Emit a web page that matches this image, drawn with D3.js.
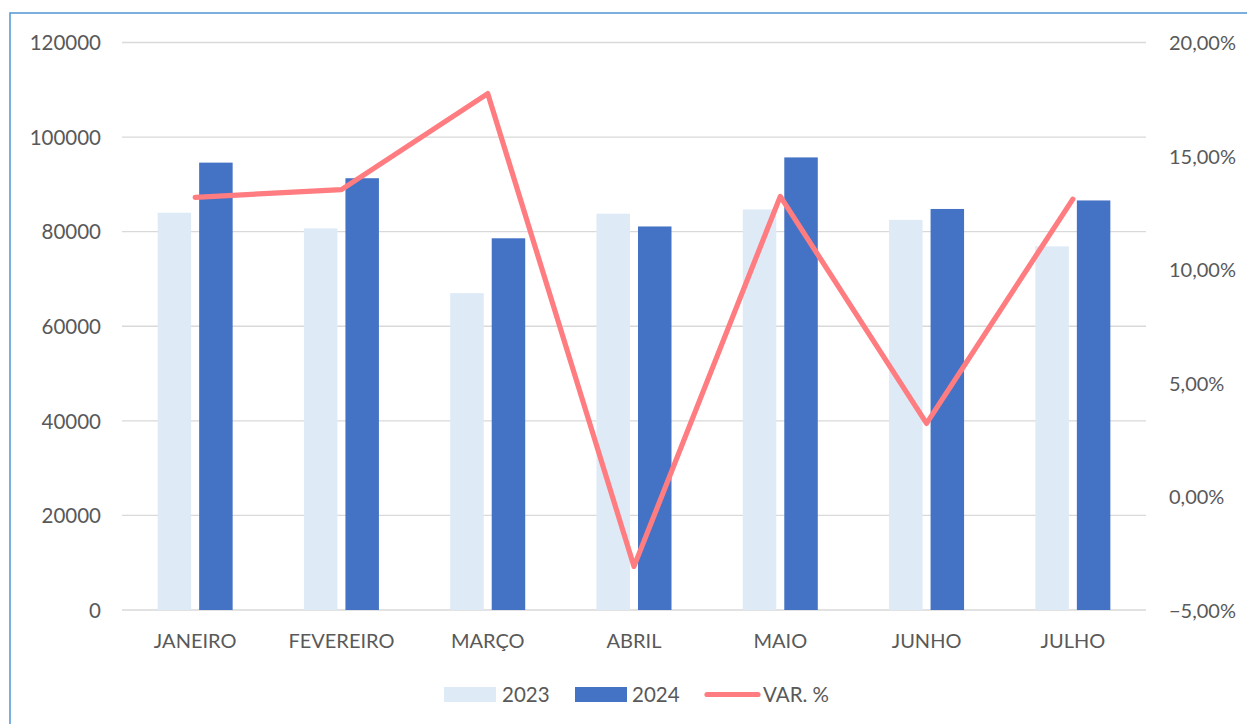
<!DOCTYPE html>
<html>
<head>
<meta charset="utf-8">
<script src="https://cdn.jsdelivr.net/npm/d3@7"></script>
<style>
  html, body { margin: 0; padding: 0; background: #fff; }
  svg { display: block; }
  text { font-family: Lato, "Open Sans", sans-serif; fill: #595959; }
</style>
</head>
<body>
<svg id="chart" width="1247" height="724"></svg>
<script>
// Monthly totals for 2023 and 2024, plus year-over-year variation (%)
const months = ["JANEIRO", "FEVEREIRO", "MARÇO", "ABRIL", "MAIO", "JUNHO", "JULHO"];
const values2023 = [84000, 80700, 67000, 83800, 84700, 82500, 76900];
const values2024 = [94600, 91300, 78600, 81100, 95700, 84800, 86600];
const variation = [13.18, 13.52, 17.75, -3.08, 13.22, 3.22, 13.1];

const leftTicks = [0, 20000, 40000, 60000, 80000, 100000, 120000];
const rightTicks = [-5, 0, 5, 10, 15, 20];

const colors = { y2023: "#DEEAF6", y2024: "#4472C4", line: "#FF7C80" };

const svg = d3.select("#chart");
const plot = { left: 122, right: 1146, top: 42.5, bottom: 610 };

// Chart frame
svg.append("rect")
  .attr("x", 10).attr("y", 13)
  .attr("width", 1260).attr("height", 740)
  .attr("fill", "none")
  .attr("stroke", "#5B9BD5")
  .attr("stroke-width", 1.6);

const x = d3.scaleBand().domain(months).range([plot.left, plot.right]).padding(0);
const yLeft = d3.scaleLinear().domain([0, 120000]).range([plot.bottom, plot.top]);
const yRight = d3.scaleLinear().domain([-5, 20]).range([plot.bottom, plot.top]);

// Horizontal gridlines
svg.append("g")
  .selectAll("line")
  .data(leftTicks)
  .join("line")
  .attr("x1", plot.left).attr("x2", plot.right)
  .attr("y1", d => yLeft(d)).attr("y2", d => yLeft(d))
  .attr("stroke", "#D9D9D9")
  .attr("stroke-width", 1.3);

// Left axis
const leftAxis = svg.append("g")
  .attr("transform", `translate(${plot.left - 21},0)`)
  .call(d3.axisLeft(yLeft).tickValues(leftTicks).tickSize(0).tickPadding(0).tickFormat(d3.format("d")));
leftAxis.select(".domain").remove();
leftAxis.selectAll("text").attr("font-size", 20.5).attr("dy", "0.35em")
  .style("font-family", "Lato, sans-serif").attr("fill", "#595959");

// Right axis
const pctFmt = d => d3.format(".2f")(d).replace(".", ",") + "%";
const rightAxis = svg.append("g")
  .attr("transform", `translate(${plot.right + 23},0)`)
  .call(d3.axisRight(yRight).tickValues(rightTicks).tickSize(0).tickPadding(0).tickFormat(pctFmt));
rightAxis.select(".domain").remove();
rightAxis.selectAll("text").attr("font-size", 20).attr("dy", "0.35em")
  .style("font-family", "Lato, sans-serif").attr("fill", "#595959");

// Bottom axis (category labels)
const bottomAxis = svg.append("g")
  .attr("transform", `translate(0,${plot.bottom})`)
  .call(d3.axisBottom(x).tickSize(0).tickPadding(24));
bottomAxis.select(".domain").remove();
bottomAxis.selectAll("text").attr("font-size", 20)
  .style("font-family", "Lato, sans-serif").attr("fill", "#595959");

// Bars
const barW = 33.5, innerGap = 4;
const center = m => x(m) + x.bandwidth() / 2;

svg.append("g").selectAll("rect")
  .data(months.map((m, i) => ({ m, v: values2023[i] })))
  .join("rect")
  .attr("x", d => center(d.m) - innerGap - barW)
  .attr("width", barW)
  .attr("y", d => yLeft(d.v))
  .attr("height", d => yLeft(0) - yLeft(d.v))
  .attr("fill", colors.y2023);

svg.append("g").selectAll("rect")
  .data(months.map((m, i) => ({ m, v: values2024[i] })))
  .join("rect")
  .attr("x", d => center(d.m) + innerGap)
  .attr("width", barW)
  .attr("y", d => yLeft(d.v))
  .attr("height", d => yLeft(0) - yLeft(d.v))
  .attr("fill", colors.y2024);

// Variation line
const line = d3.line()
  .x((d, i) => center(months[i]))
  .y(d => yRight(d));

svg.append("path")
  .datum(variation)
  .attr("d", line)
  .attr("fill", "none")
  .attr("stroke", colors.line)
  .attr("stroke-width", 5.2)
  .attr("stroke-linejoin", "round")
  .attr("stroke-linecap", "round");

// Legend
const legend = svg.append("g");
const legendItems = [
  { label: "2023", type: "rect", color: colors.y2023, x: 444, tx: 502 },
  { label: "2024", type: "rect", color: colors.y2024, x: 575, tx: 632 },
  { label: "VAR. %", type: "line", color: colors.line, x: 705, tx: 763 }
];
legendItems.forEach(it => {
  if (it.type === "rect") {
    legend.append("rect")
      .attr("x", it.x).attr("y", 687)
      .attr("width", 52).attr("height", 15)
      .attr("fill", it.color);
  } else {
    legend.append("line")
      .attr("x1", it.x + 2).attr("x2", it.x + 53)
      .attr("y1", 694.5).attr("y2", 694.5)
      .attr("stroke", it.color)
      .attr("stroke-width", 5.2)
      .attr("stroke-linecap", "round");
  }
  legend.append("text")
    .attr("x", it.tx).attr("y", 694.5)
    .attr("dy", "0.35em")
    .attr("font-size", 20.5)
    .text(it.label);
});
</script>
</body>
</html>
